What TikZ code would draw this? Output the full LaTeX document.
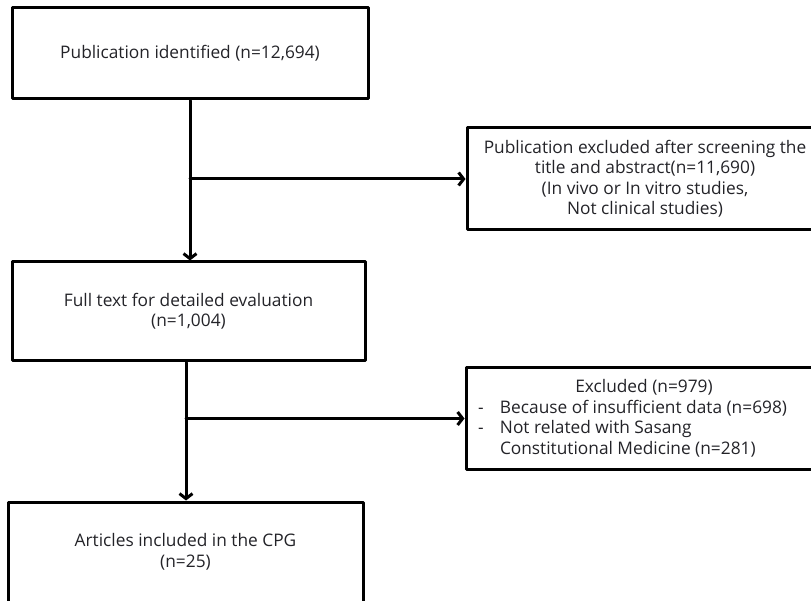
\documentclass[tikz,border=0pt]{standalone}
\usepackage{fontspec}
\setmainfont{Open Sans}
\usetikzlibrary{arrows.meta}
\usetikzlibrary{positioning}
\definecolor{txtgray}{RGB}{35,35,40}

\begin{document}
\begin{tikzpicture}[line cap=round,line join=round,>={Straight Barb[length=5pt,width=13pt]},x=1pt,y=-1pt,
  flowbox/.style={draw,line width=3pt,rectangle,inner sep=0pt,text=txtgray,align=center,
    font=\fontsize{17.3}{20.5}\selectfont},
  flowline/.style={line width=3pt}]
\clip (0,0) rectangle (811,601);
\useasboundingbox (0,0) rectangle (811,601);
\node [flowbox,minimum width=356pt,minimum height=91pt] (pub) at (190,53.5) {Publication identified (n=12,694)};
\node [flowbox,minimum width=356pt,minimum height=102pt] (excl1) at (645,179) {Publication excluded after screening the\\ title and abstract(n=11,690)\\ (In vivo or In vitro studies,\\ Not clinical studies)};
\node [flowbox,minimum width=353pt,minimum height=99pt] (full) at (188.5,311.5) {Full text for detailed evaluation\\ (n=1,004)};
\node [flowbox,minimum width=356pt,minimum height=101pt,align=left] (excl2) at (644,418.5) {\makebox[340pt]{Excluded (n=979)}\\
  \makebox[26pt][l]{\hspace*{4pt}-}Because of insufficient data (n=698)\\
  \makebox[26pt][l]{\hspace*{4pt}-}Not related with Sasang\\
  \hspace*{26pt}Constitutional Medicine (n=281)};
\node [flowbox,minimum width=355pt,minimum height=100pt] (art) at (185.5,552) {Articles included in the CPG\\ (n=25)};
% first step
\draw [flowline,->] (pub.south) -- (pub.south |- full.north);
\draw [flowline,->] (pub.south |- excl1.west) -- (excl1.west);
% second step
\draw [flowline,->] ([xshift=-2.5pt]full.south) -- ([xshift=-2.5pt]full.south |- art.north);
\draw [flowline,->] ([xshift=-2.5pt]full.south |- excl2.west) -- (excl2.west);
\end{tikzpicture}
\end{document}
